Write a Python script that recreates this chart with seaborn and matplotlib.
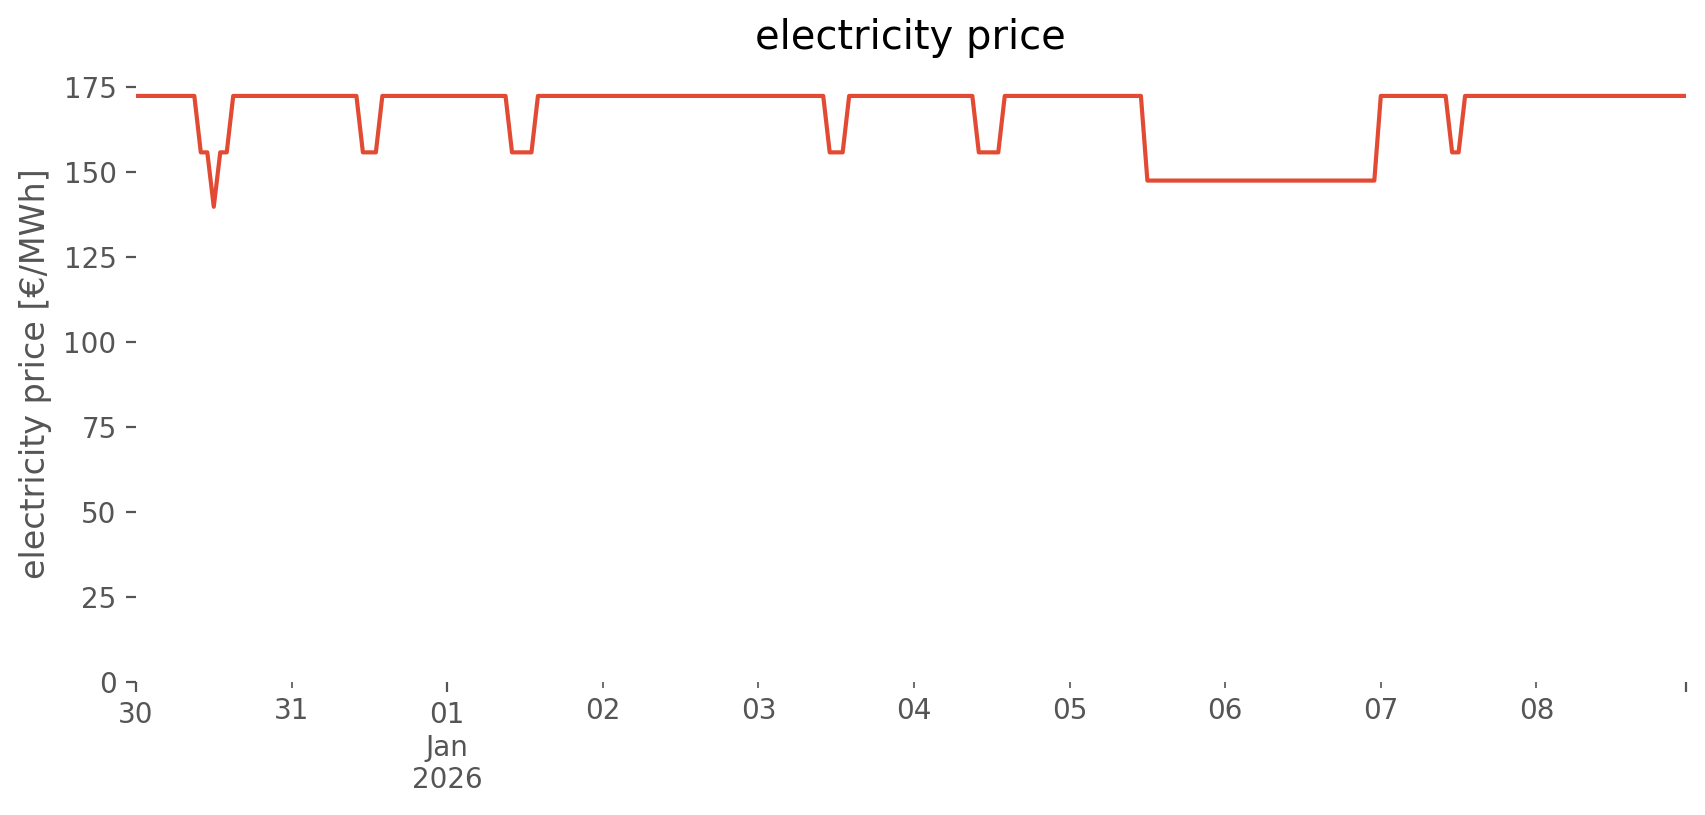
"""
Hourly electricity price, 30 Dec 2025 - 08 Jan 2026.
Run: python plot.py  -> out.png
"""

import matplotlib

matplotlib.use("Agg")

import matplotlib.dates as mdates
import matplotlib.pyplot as plt
import pandas as pd
import seaborn as sns

START = "2025-12-30 00:00"

# hourly prices [€/MWh], one list of 24 values per day
dec_30 = [172.4, 172.4, 172.4, 172.4, 172.4, 172.4, 172.4, 172.4, 172.4, 172.4, 155.8, 155.8,
          139.8, 155.8, 155.8, 172.4, 172.4, 172.4, 172.4, 172.4, 172.4, 172.4, 172.4, 172.4]
dec_31 = [172.4, 172.4, 172.4, 172.4, 172.4, 172.4, 172.4, 172.4, 172.4, 172.4, 172.4, 155.8,
          155.8, 155.8, 172.4, 172.4, 172.4, 172.4, 172.4, 172.4, 172.4, 172.4, 172.4, 172.4]
jan_01 = [172.4, 172.4, 172.4, 172.4, 172.4, 172.4, 172.4, 172.4, 172.4, 172.4, 155.8, 155.8,
          155.8, 155.8, 172.4, 172.4, 172.4, 172.4, 172.4, 172.4, 172.4, 172.4, 172.4, 172.4]
jan_02 = [172.4, 172.4, 172.4, 172.4, 172.4, 172.4, 172.4, 172.4, 172.4, 172.4, 172.4, 172.4,
          172.4, 172.4, 172.4, 172.4, 172.4, 172.4, 172.4, 172.4, 172.4, 172.4, 172.4, 172.4]
jan_03 = [172.4, 172.4, 172.4, 172.4, 172.4, 172.4, 172.4, 172.4, 172.4, 172.4, 172.4, 155.8,
          155.8, 155.8, 172.4, 172.4, 172.4, 172.4, 172.4, 172.4, 172.4, 172.4, 172.4, 172.4]
jan_04 = [172.4, 172.4, 172.4, 172.4, 172.4, 172.4, 172.4, 172.4, 172.4, 172.4, 155.8, 155.8,
          155.8, 155.8, 172.4, 172.4, 172.4, 172.4, 172.4, 172.4, 172.4, 172.4, 172.4, 172.4]
jan_05 = [172.4, 172.4, 172.4, 172.4, 172.4, 172.4, 172.4, 172.4, 172.4, 172.4, 172.4, 172.4,
          147.5, 147.5, 147.5, 147.5, 147.5, 147.5, 147.5, 147.5, 147.5, 147.5, 147.5, 147.5]
jan_06 = [147.5, 147.5, 147.5, 147.5, 147.5, 147.5, 147.5, 147.5, 147.5, 147.5, 147.5, 147.5,
          147.5, 147.5, 147.5, 147.5, 147.5, 147.5, 147.5, 147.5, 147.5, 147.5, 147.5, 147.5]
jan_07 = [172.4, 172.4, 172.4, 172.4, 172.4, 172.4, 172.4, 172.4, 172.4, 172.4, 172.4, 155.8,
          155.8, 172.4, 172.4, 172.4, 172.4, 172.4, 172.4, 172.4, 172.4, 172.4, 172.4, 172.4]
jan_08 = [172.4, 172.4, 172.4, 172.4, 172.4, 172.4, 172.4, 172.4, 172.4, 172.4, 172.4, 172.4,
          172.4, 172.4, 172.4, 172.4, 172.4, 172.4, 172.4, 172.4, 172.4, 172.4, 172.4, 172.4]

DAYS = [dec_30, dec_31, jan_01, jan_02, jan_03, jan_04, jan_05, jan_06, jan_07, jan_08]

# x-axis labels, pandas-style: major ticks carry month/year
MAJOR_TICKS = ["2025-12-30 00:00", "2026-01-01 00:00", "2026-01-08 23:00"]
MAJOR_LABELS = ["30", "01\nJan\n2026", ""]
MINOR_TICKS = ["2025-12-31 00:00", "2026-01-02 00:00", "2026-01-03 00:00", "2026-01-04 00:00",
               "2026-01-05 00:00", "2026-01-06 00:00", "2026-01-07 00:00", "2026-01-08 00:00"]
MINOR_LABELS = ["31", "02", "03", "04", "05", "06", "07", "08"]

Y_TICKS = [0, 25, 50, 75, 100, 125, 150, 175]


def main():
    prices = [p for day in DAYS for p in day]
    df = pd.DataFrame({
        "time": pd.date_range(START, periods=len(prices), freq="h"),
        "price": prices,
    })

    plt.style.use("ggplot")
    plt.rcParams["axes.facecolor"] = "white"
    plt.rcParams["axes.grid"] = False

    fig = plt.figure(figsize=(8.53, 4.075), dpi=200)
    ax = fig.add_axes([0.0797, 0.1632, 0.9083, 0.7558])

    sns.lineplot(data=df, x="time", y="price", ax=ax, color="#E24A33", linewidth=1.5)

    ax.set_xlim(df["time"].iloc[0], df["time"].iloc[-1])
    ax.set_ylim(0, 181.2)
    ax.set_yticks(Y_TICKS)

    ax.set_xticks(mdates.date2num(pd.to_datetime(MAJOR_TICKS, format="%Y-%m-%d %H:%M")))
    ax.set_xticklabels(MAJOR_LABELS)
    ax.set_xticks(mdates.date2num(pd.to_datetime(MINOR_TICKS, format="%Y-%m-%d %H:%M")), minor=True)
    ax.set_xticklabels(MINOR_LABELS, minor=True)
    ax.tick_params(axis="x", which="major", length=3.5)
    ax.tick_params(axis="x", which="minor", length=2)

    for spine in ax.spines.values():
        spine.set_visible(False)

    ax.set_title("electricity price")
    ax.set_xlabel("")
    ax.set_ylabel("electricity price [€/MWh]")

    fig.savefig("out.png", dpi=200)
    plt.close(fig)


if __name__ == "__main__":
    main()
